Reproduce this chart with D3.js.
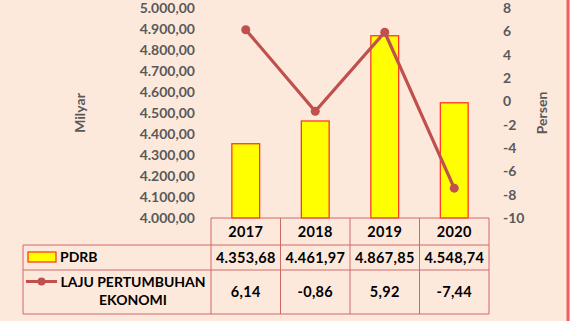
<!DOCTYPE html>
<html>
<head>
<meta charset="utf-8">
<script src="https://cdn.jsdelivr.net/npm/d3@7"></script>
<style>
  body { margin: 0; background: #fde9dc; }
  svg { display: block; font-family: Lato, "Open Sans", sans-serif; }
</style>
</head>
<body>
<script>
var w = 570;
var h = 321;

var years = ["2017", "2018", "2019", "2020"];
var pdrb = [4353.68, 4461.97, 4867.85, 4548.74];
var laju = [6.14, -0.86, 5.92, -7.44];
var pdrbLabels = ["4.353,68", "4.461,97", "4.867,85", "4.548,74"];
var lajuLabels = ["6,14", "-0,86", "5,92", "-7,44"];
var leftTicks = [4000, 4100, 4200, 4300, 4400, 4500, 4600, 4700, 4800, 4900, 5000];
var rightTicks = [-10, -8, -6, -4, -2, 0, 2, 4, 6, 8];

var plotL = 211, plotR = 489, plotT = 8, plotB = 218;
var rowY = [218, 245, 270, 314];
var legendX = 23;
var lineColor = "#c0504d";
var gridColor = "#d06868";
var textGray = "#595959";

var svg = d3.select("body")
    .append("svg")
    .attr("width", w)
    .attr("height", h);

svg.append("rect")
    .attr("width", w)
    .attr("height", h)
    .attr("fill", "#fde9dc");

// red frame on right edge
svg.append("line")
    .attr("x1", w - 2).attr("x2", w - 2)
    .attr("y1", 0).attr("y2", h)
    .attr("stroke", "#f06262")
    .attr("stroke-width", 3);

var x = d3.scaleBand()
    .domain(years)
    .range([plotL, plotR])
    .paddingInner(0)
    .paddingOuter(0);

var yL = d3.scaleLinear().domain([4000, 5000]).range([plotB, plotT]);
var yR = d3.scaleLinear().domain([-10, 8]).range([plotB, plotT]);

// left axis, indonesian number format
var fmtL = function (d) {
    return d3.format(",.2f")(d).replace(/,/g, "#").replace(".", ",").replace(/#/g, ".");
};
var axL = svg.append("g")
    .attr("transform", "translate(" + (plotL - 11) + ",0)")
    .call(d3.axisLeft(yL).tickValues(leftTicks).tickFormat(fmtL).tickSize(0).tickPadding(5));
axL.select(".domain").remove();
axL.selectAll("text")
    .attr("fill", textGray)
    .style("font-size", "14px")
    .style("font-weight", "bold")
    .style("font-family", "Lato");

// right axis
var axR = svg.append("g")
    .attr("transform", "translate(" + (plotR + 9) + ",0)")
    .call(d3.axisRight(yR).tickValues(rightTicks).tickFormat(function (d) { return String(d); }).tickSize(0).tickPadding(5));
axR.select(".domain").remove();
axR.selectAll("text")
    .attr("fill", textGray)
    .style("font-size", "14px")
    .style("font-weight", "bold")
    .style("font-family", "Lato");

// axis titles
svg.append("text")
    .attr("transform", "translate(80,113) rotate(-90)")
    .attr("text-anchor", "middle")
    .attr("dy", "0.35em")
    .attr("fill", textGray)
    .style("font-size", "14px")
    .style("font-weight", "bold")
    .text("Milyar");

svg.append("text")
    .attr("transform", "translate(542,113) rotate(-90)")
    .attr("text-anchor", "middle")
    .attr("dy", "0.35em")
    .attr("fill", textGray)
    .style("font-size", "14px")
    .style("font-weight", "bold")
    .text("Persen");

// bars
var barW = x.bandwidth() * 0.4;
svg.selectAll("rect.bar")
    .data(pdrb)
    .enter()
    .append("rect")
    .attr("class", "bar")
    .attr("x", function (d, i) { return x(years[i]) + (x.bandwidth() - barW) / 2; })
    .attr("y", function (d) { return yL(d); })
    .attr("width", barW)
    .attr("height", function (d) { return plotB - yL(d); })
    .attr("fill", "#ffff00")
    .attr("stroke", "#ff3b1f")
    .attr("stroke-width", 1.3);

// line
var line = d3.line()
    .x(function (d, i) { return x(years[i]) + x.bandwidth() / 2; })
    .y(function (d) { return yR(d); });

svg.append("path")
    .datum(laju)
    .attr("d", line)
    .attr("fill", "none")
    .attr("stroke", lineColor)
    .attr("stroke-width", 3.2);

svg.selectAll("circle.pt")
    .data(laju)
    .enter()
    .append("circle")
    .attr("class", "pt")
    .attr("cx", function (d, i) { return x(years[i]) + x.bandwidth() / 2; })
    .attr("cy", function (d) { return yR(d); })
    .attr("r", 4.5)
    .attr("fill", lineColor);

// data table
var tbl = svg.append("g");
var gl = function (x1, y1, x2, y2) {
    tbl.append("line")
        .attr("x1", x1).attr("y1", y1).attr("x2", x2).attr("y2", y2)
        .attr("stroke", gridColor)
        .attr("stroke-width", 1);
};
gl(plotL, rowY[0], plotR, rowY[0]);
gl(legendX, rowY[1], plotR, rowY[1]);
gl(legendX, rowY[2], plotR, rowY[2]);
gl(legendX, rowY[3], plotR, rowY[3]);
gl(legendX, rowY[1], legendX, rowY[3]);
years.forEach(function (yr) {
    gl(x(yr), rowY[0], x(yr), rowY[3]);
});
gl(plotR, rowY[0], plotR, rowY[3]);

var cellText = function (tx, ty, s) {
    tbl.append("text")
        .attr("x", tx)
        .attr("y", ty)
        .attr("text-anchor", "middle")
        .attr("dy", "0.35em")
        .attr("fill", "#000")
        .style("font-size", "14.5px")
        .style("font-weight", "bold")
        .style("letter-spacing", "0.3px")
        .text(s);
};
years.forEach(function (yr, i) {
    var cx = x(yr) + x.bandwidth() / 2;
    cellText(cx, (rowY[0] + rowY[1]) / 2, yr);
    cellText(cx, (rowY[1] + rowY[2]) / 2, pdrbLabels[i]);
    cellText(cx, (rowY[2] + rowY[3]) / 2, lajuLabels[i]);
});

// legend keys
tbl.append("rect")
    .attr("x", 28).attr("y", 252)
    .attr("width", 28).attr("height", 10)
    .attr("fill", "#ffff00")
    .attr("stroke", "#ff3b1f")
    .attr("stroke-width", 1.3);
tbl.append("text")
    .attr("x", 60).attr("y", 257.5)
    .attr("dy", "0.35em")
    .style("font-size", "14px")
    .style("font-weight", "bold")
    .text("PDRB");

tbl.append("line")
    .attr("x1", 26).attr("x2", 57)
    .attr("y1", 281.5).attr("y2", 281.5)
    .attr("stroke", lineColor)
    .attr("stroke-width", 3);
tbl.append("circle")
    .attr("cx", 41.5).attr("cy", 281.5).attr("r", 4)
    .attr("fill", lineColor);
tbl.append("text")
    .attr("x", 133).attr("y", 282)
    .attr("text-anchor", "middle")
    .attr("dy", "0.35em")
    .style("font-size", "14px")
    .style("font-weight", "bold")
    .text("LAJU PERTUMBUHAN");
tbl.append("text")
    .attr("x", 133).attr("y", 300)
    .attr("text-anchor", "middle")
    .attr("dy", "0.35em")
    .style("font-size", "14px")
    .style("font-weight", "bold")
    .text("EKONOMI");
</script>
</body>
</html>
